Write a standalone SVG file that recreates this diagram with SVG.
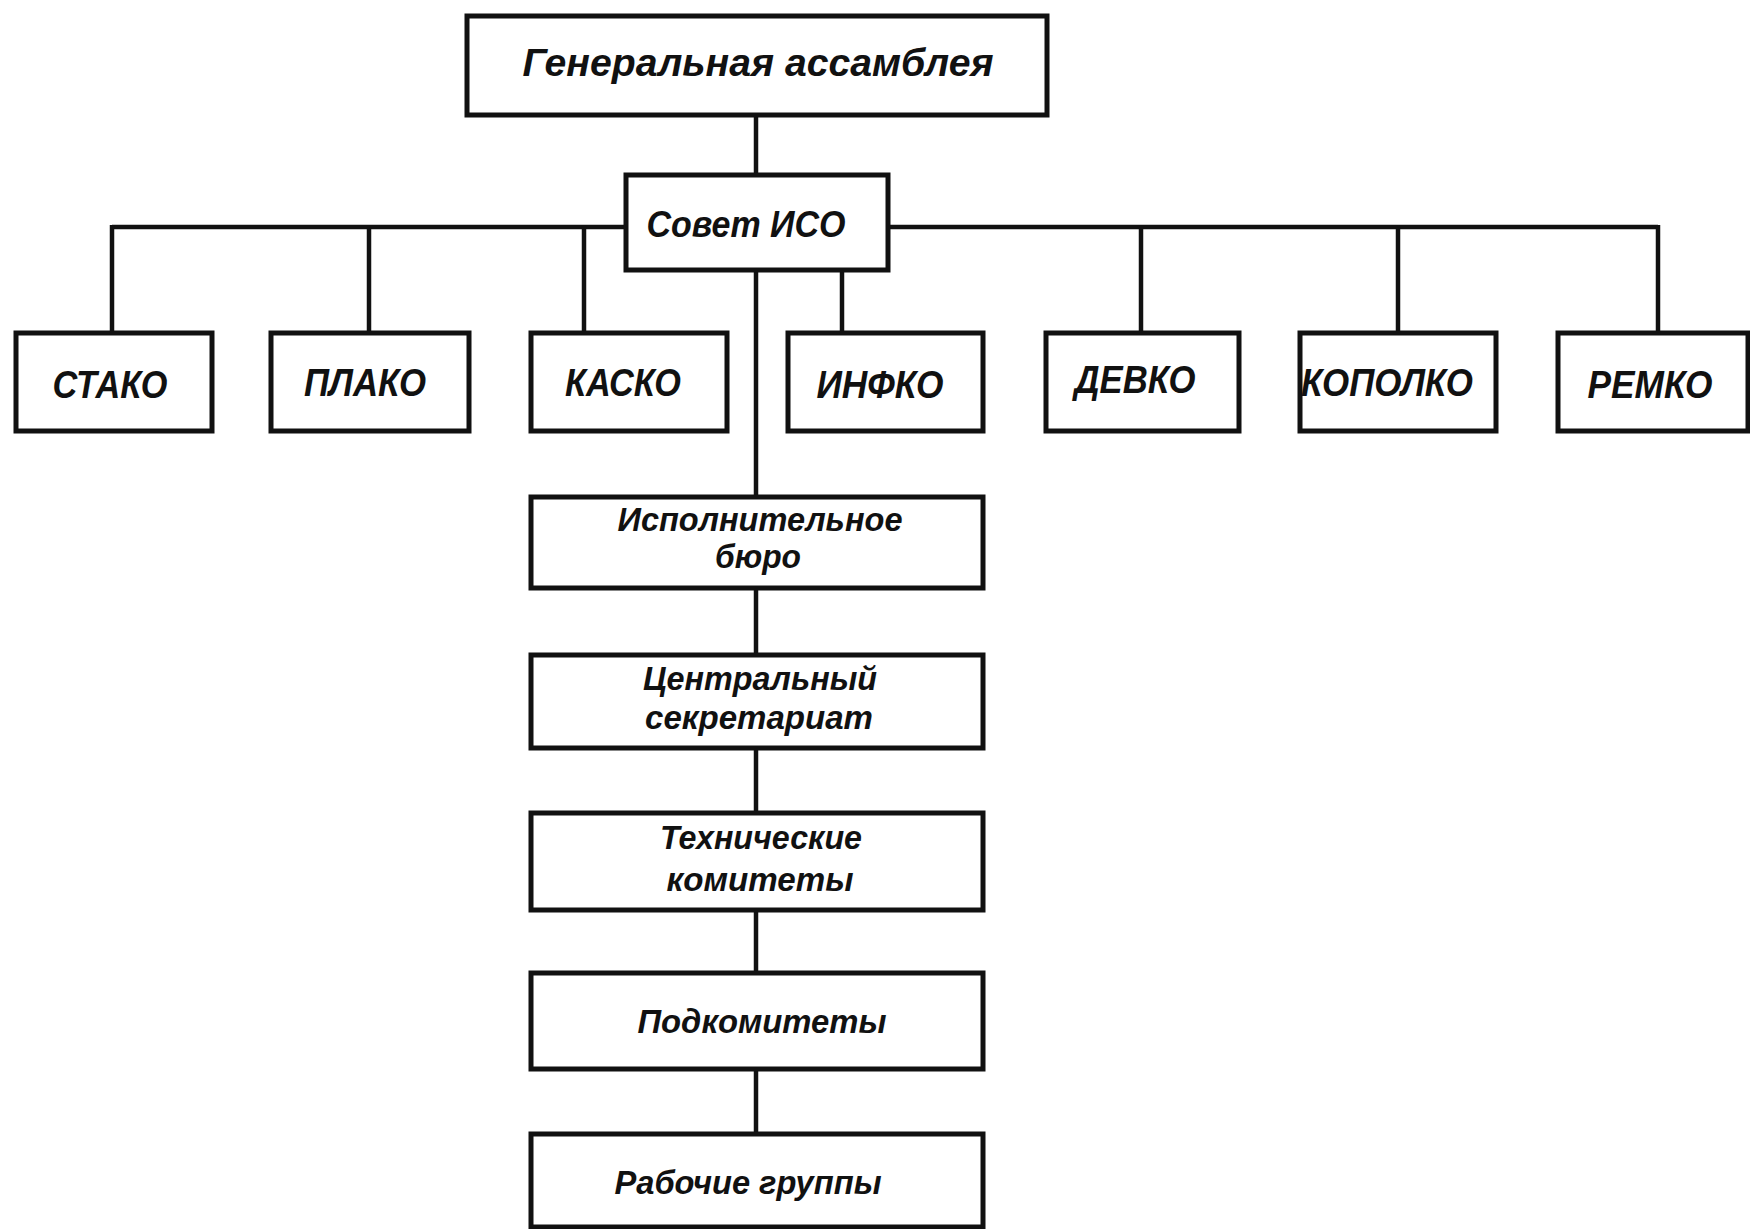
<svg xmlns="http://www.w3.org/2000/svg" width="1750" height="1229" viewBox="0 0 1750 1229">
<style>
.box{fill:#fff;stroke:#111;stroke-width:5}
.ln{fill:none;stroke:#111;stroke-width:4.5}
.t{font-family:"Liberation Sans",Arial,sans-serif;font-weight:bold;font-style:italic;fill:#111;text-anchor:middle}
.big{font-size:38px}
.mid{font-size:36px}
.sm{font-size:33px}
</style>
<rect width="1750" height="1229" fill="#fff"/>
<g id="connectors">
<line class="ln" x1="756" y1="115" x2="756" y2="175"/>
<line class="ln" x1="112" y1="227" x2="626" y2="227"/>
<line class="ln" x1="888" y1="227" x2="1658" y2="227"/>
<line class="ln" x1="112" y1="225" x2="112" y2="333"/>
<line class="ln" x1="369" y1="227" x2="369" y2="333"/>
<line class="ln" x1="584" y1="227" x2="584" y2="333"/>
<line class="ln" x1="842" y1="270" x2="842" y2="333"/>
<line class="ln" x1="1141" y1="227" x2="1141" y2="333"/>
<line class="ln" x1="1398" y1="227" x2="1398" y2="333"/>
<line class="ln" x1="1658" y1="225" x2="1658" y2="333"/>
<line class="ln" x1="756" y1="270" x2="756" y2="497"/>
<line class="ln" x1="756" y1="588" x2="756" y2="655"/>
<line class="ln" x1="756" y1="748" x2="756" y2="813"/>
<line class="ln" x1="756" y1="910" x2="756" y2="973"/>
<line class="ln" x1="756" y1="1069" x2="756" y2="1134"/>
</g>
<g id="general-assembly">
<rect class="box" x="467" y="16" width="580" height="99"/>
<text class="t big" x="758" y="76" textLength="471" lengthAdjust="spacingAndGlyphs">Генеральная ассамблея</text>
</g>
<g id="council">
<rect class="box" x="626" y="175" width="262" height="95"/>
<text class="t mid" x="746" y="237" textLength="199" lengthAdjust="spacingAndGlyphs">Совет ИСО</text>
</g>
<g id="stako">
<rect class="box" x="16" y="333" width="196" height="98"/>
<text class="t big" x="110" y="398" textLength="115" lengthAdjust="spacingAndGlyphs">СТАКО</text>
</g>
<g id="plako">
<rect class="box" x="271" y="333" width="198" height="98"/>
<text class="t big" x="365" y="396" textLength="122" lengthAdjust="spacingAndGlyphs">ПЛАКО</text>
</g>
<g id="kasko">
<rect class="box" x="531" y="333" width="196" height="98"/>
<text class="t big" x="623" y="396" textLength="116" lengthAdjust="spacingAndGlyphs">КАСКО</text>
</g>
<g id="infko">
<rect class="box" x="788" y="333" width="195" height="98"/>
<text class="t big" x="880" y="398" textLength="127" lengthAdjust="spacingAndGlyphs">ИНФКО</text>
</g>
<g id="devko">
<rect class="box" x="1046" y="333" width="193" height="98"/>
<text class="t big" x="1135" y="393" textLength="121" lengthAdjust="spacingAndGlyphs">ДЕВКО</text>
</g>
<g id="kopolko">
<rect class="box" x="1300" y="333" width="196" height="98"/>
<text class="t big" x="1387" y="396" textLength="172" lengthAdjust="spacingAndGlyphs">КОПОЛКО</text>
</g>
<g id="remko">
<rect class="box" x="1558" y="333" width="190" height="98"/>
<text class="t big" x="1650" y="398" textLength="125" lengthAdjust="spacingAndGlyphs">РЕМКО</text>
</g>
<g id="executive-bureau">
<rect class="box" x="531" y="497" width="452" height="91"/>
<text class="t sm" x="760" y="531" textLength="285" lengthAdjust="spacingAndGlyphs">Исполнительное</text>
<text class="t sm" x="758" y="568" textLength="86" lengthAdjust="spacingAndGlyphs">бюро</text>
</g>
<g id="central-secretariat">
<rect class="box" x="531" y="655" width="452" height="93"/>
<text class="t sm" x="760" y="690" textLength="234" lengthAdjust="spacingAndGlyphs">Центральный</text>
<text class="t sm" x="759" y="729" textLength="228" lengthAdjust="spacingAndGlyphs">секретариат</text>
</g>
<g id="technical-committees">
<rect class="box" x="531" y="813" width="452" height="97"/>
<text class="t sm" x="761" y="849" textLength="202" lengthAdjust="spacingAndGlyphs">Технические</text>
<text class="t sm" x="760" y="891" textLength="187" lengthAdjust="spacingAndGlyphs">комитеты</text>
</g>
<g id="subcommittees">
<rect class="box" x="531" y="973" width="452" height="96"/>
<text class="t sm" x="762" y="1033" textLength="249" lengthAdjust="spacingAndGlyphs">Подкомитеты</text>
</g>
<g id="working-groups">
<rect class="box" x="531" y="1134" width="452" height="93"/>
<text class="t sm" x="748" y="1194" textLength="267" lengthAdjust="spacingAndGlyphs">Рабочие группы</text>
</g>
</svg>
